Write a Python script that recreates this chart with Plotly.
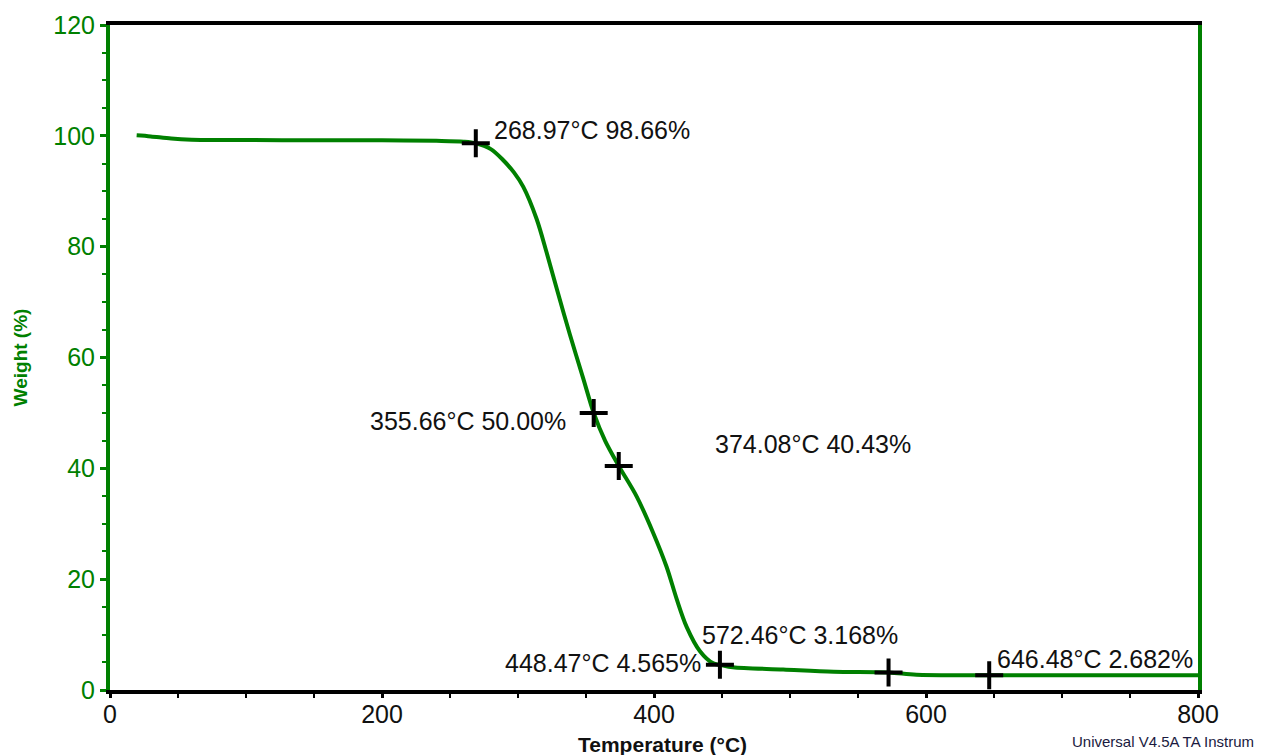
import plotly.graph_objects as go

# Curve data
temperature = [19.6, 30, 45, 60, 100, 150, 200, 240, 260, 268.97, 280, 289.2, 297, 303.9, 313.7,
               321.1, 328.5, 338.2, 348.0, 355.66, 364, 374.08, 387.3, 399.5, 409.3, 416.7,
               424.0, 433.8, 443.6, 448.47, 458, 495, 532, 572.46, 593, 646.48, 700, 800]
weight = [100.1, 99.9, 99.5, 99.3, 99.25, 99.2, 99.2, 99.1, 98.95, 98.66, 97.6, 95.6, 93.4, 90.8, 85.0,
          78.9, 72.4, 64.1, 56.2, 50.0, 45.0, 40.43, 34.9, 28.3, 22.2, 16.4,
          11.4, 7.0, 4.8, 4.565, 4.1, 3.7, 3.3, 3.168, 2.75, 2.682, 2.65, 2.65]

# Marked points
mark_t = [268.97, 355.66, 374.08, 448.47, 572.46, 646.48]
mark_w = [98.66, 50.00, 40.43, 4.565, 3.168, 2.682]
mark_labels = ["268.97°C 98.66%", "355.66°C 50.00%", "374.08°C 40.43%",
               "448.47°C 4.565%", "572.46°C 3.168%", "646.48°C 2.682%"]
label_x = [280.9, 336.8, 443.4, 436.0, 433.8, 650.7]
label_y = [101.05, 48.5, 44.4, 4.87, 9.9, 5.6]
label_anchor = ["left", "right", "left", "right", "left", "left"]

x_ticks = [0, 200, 400, 600, 800]
y_ticks = [0, 20, 40, 60, 80, 100, 120]

GREEN = "#008000"
FONT = "Liberation Sans, Arial, sans-serif"

fig = go.Figure()
fig.add_trace(go.Scatter(x=temperature, y=weight, mode="lines",
                         line=dict(color=GREEN, width=4, shape="spline", smoothing=0.9),
                         hoverinfo="skip", showlegend=False))
fig.add_trace(go.Scatter(x=mark_t, y=mark_w, mode="markers",
                         marker=dict(symbol="cross-thin", size=20,
                                     line=dict(color="black", width=4)),
                         showlegend=False))

for t, yv, txt, anc in zip(label_x, label_y, mark_labels, label_anchor):
    fig.add_annotation(x=t, y=yv, text=txt, xref="x", yref="y", xanchor=anc,
                       yanchor="middle", showarrow=False,
                       font=dict(family=FONT, size=25, color="#111111"))

# x-axis title
fig.add_annotation(x=0.5, y=0, xref="paper", yref="paper", xanchor="center", yanchor="middle",
                   xshift=8, yshift=-54, text="<b>Temperature (°C)</b>", showarrow=False,
                   font=dict(family=FONT, size=21, color="#111111"))

fig.add_annotation(x=1.0, y=0, xref="paper", yref="paper", xanchor="left", yanchor="middle",
                   xshift=-128, yshift=-51, text="Universal V4.5A TA Instrum", showarrow=False,
                   font=dict(family=FONT, size=15, color="#1a1a40"))

fig.update_layout(
    width=1276, height=747,
    margin=dict(l=102, r=86, t=17, b=65, autoexpand=False),
    paper_bgcolor="white", plot_bgcolor="white",
    font=dict(family=FONT),
    xaxis=dict(range=[0, 800], tickvals=x_ticks, showgrid=False, zeroline=False,
               automargin=False, ticklabelstandoff=-5,
               showline=True, linecolor="black", linewidth=4, mirror=True,
               ticks="outside", ticklen=4, tickwidth=3, tickcolor="black",
               minor=dict(dtick=50, ticks="outside", ticklen=4, tickwidth=2, tickcolor="black"),
               tickfont=dict(family=FONT, size=25, color="#111111")),
    yaxis=dict(range=[0, 120], tickvals=y_ticks, showgrid=False, zeroline=False,
               automargin=False,
               showline=True, linecolor=GREEN, linewidth=4, mirror=True,
               ticks="outside", ticklen=6, tickwidth=3, tickcolor=GREEN,
               minor=dict(dtick=5, ticks="outside", ticklen=4, tickwidth=2, tickcolor=GREEN),
               tickfont=dict(family=FONT, size=25, color=GREEN),
               title=dict(text="<b>Weight (%)</b>", standoff=22,
                          font=dict(family=FONT, size=19, color=GREEN))),
)

fig.write_html("out.html")
